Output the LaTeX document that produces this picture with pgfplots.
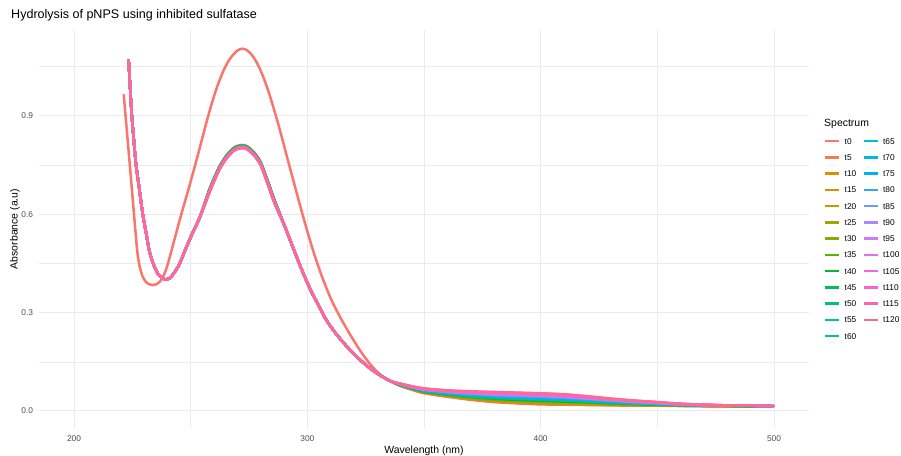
\documentclass[border=0pt]{standalone}
\usepackage{fontspec}
\setmainfont{Liberation Sans}
\usepackage{pgfplots}
\usepackage{pgfplotstable}
\pgfplotsset{compat=1.18}

\definecolor{gridc}{HTML}{EBEBEB}
\definecolor{tickc}{HTML}{4D4D4D}
\definecolor{c0}{HTML}{F8766D}
\definecolor{c5}{HTML}{EF7F49}
\definecolor{c10}{HTML}{E08B00}
\definecolor{c15}{HTML}{CF9400}
\definecolor{c20}{HTML}{BA9E00}
\definecolor{c25}{HTML}{A3A500}
\definecolor{c30}{HTML}{85AD00}
\definecolor{c35}{HTML}{5AB300}
\definecolor{c40}{HTML}{00B82B}
\definecolor{c45}{HTML}{00BD5A}
\definecolor{c50}{HTML}{00BF7D}
\definecolor{c55}{HTML}{00C19C}
\definecolor{c60}{HTML}{00C0B6}
\definecolor{c65}{HTML}{00BDCF}
\definecolor{c70}{HTML}{00B8E5}
\definecolor{c75}{HTML}{00B0F6}
\definecolor{c80}{HTML}{35A2FF}
\definecolor{c85}{HTML}{7099FF}
\definecolor{c90}{HTML}{AB87FF}
\definecolor{c95}{HTML}{CD79FE}
\definecolor{c100}{HTML}{E76BF3}
\definecolor{c105}{HTML}{F763E0}
\definecolor{c110}{HTML}{FF61C9}
\definecolor{c115}{HTML}{FF64B0}
\definecolor{c120}{HTML}{FF6A93}

% spectrum t0
\pgfplotstableread{
wl a
221.3 0.966
223.0 0.826
225.0 0.660
227.0 0.495
228.0 0.445
229.4 0.410
231.0 0.392
232.5 0.386
233.7 0.384
235.5 0.387
237.2 0.398
238.5 0.414
240.0 0.443
242.0 0.495
244.0 0.548
246.0 0.600
248.0 0.650
250.0 0.700
252.0 0.752
254.0 0.805
256.0 0.860
258.0 0.912
260.0 0.960
262.0 1.002
264.0 1.037
266.0 1.065
268.0 1.085
270.0 1.099
272.0 1.105
274.0 1.101
276.0 1.088
278.0 1.067
280.0 1.038
282.0 1.002
284.0 0.960
286.0 0.913
288.0 0.863
290.0 0.810
292.0 0.756
294.0 0.703
296.0 0.650
298.0 0.598
300.0 0.548
302.0 0.500
304.0 0.456
306.0 0.415
308.0 0.378
310.0 0.344
312.0 0.314
315.0 0.274
318.0 0.237
321.0 0.202
324.0 0.170
327.0 0.142
330.0 0.119
333.0 0.102
336.0 0.089
340.0 0.076
345.0 0.064
350.0 0.054
360.0 0.043
370.0 0.034
380.0 0.027
390.0 0.023
400.0 0.020
410.0 0.019
420.0 0.018
430.0 0.017
440.0 0.016
450.0 0.016
460.0 0.015
470.0 0.015
480.0 0.015
490.0 0.014
500.0 0.014
}\tzero

% spectra t5 ... t120
\pgfplotstableread{
wl t5 t10 t15 t20 t25 t30 t35 t40 t45 t50 t55 t60 t65 t70 t75 t80 t85 t90 t95 t100 t105 t110 t115 t120
223.4 1.071 1.071 1.071 1.071 1.071 1.071 1.071 1.071 1.071 1.071 1.071 1.071 1.071 1.071 1.071 1.071 1.071 1.071 1.071 1.071 1.071 1.071 1.071 1.071
224.0 0.995 0.995 0.995 0.995 0.995 0.995 0.995 0.995 0.995 0.995 0.995 0.995 0.995 0.995 0.995 0.995 0.995 0.995 0.995 0.995 0.995 0.995 0.995 0.995
224.7 0.908 0.908 0.908 0.908 0.908 0.908 0.908 0.908 0.908 0.908 0.908 0.908 0.908 0.908 0.908 0.908 0.908 0.908 0.908 0.908 0.908 0.908 0.908 0.908
225.5 0.838 0.838 0.838 0.838 0.838 0.838 0.838 0.838 0.838 0.838 0.838 0.838 0.838 0.838 0.838 0.838 0.838 0.838 0.838 0.838 0.838 0.838 0.838 0.838
226.5 0.756 0.756 0.756 0.756 0.756 0.756 0.756 0.756 0.756 0.756 0.756 0.756 0.756 0.756 0.756 0.756 0.756 0.756 0.756 0.756 0.756 0.756 0.756 0.756
228.0 0.677 0.677 0.677 0.677 0.677 0.677 0.677 0.677 0.677 0.677 0.677 0.677 0.677 0.677 0.677 0.677 0.677 0.677 0.677 0.677 0.677 0.677 0.677 0.677
229.4 0.603 0.603 0.603 0.603 0.603 0.603 0.603 0.603 0.603 0.603 0.603 0.603 0.603 0.603 0.603 0.603 0.603 0.603 0.603 0.603 0.603 0.603 0.603 0.603
231.0 0.539 0.539 0.539 0.539 0.539 0.539 0.539 0.539 0.539 0.539 0.539 0.539 0.539 0.539 0.539 0.539 0.539 0.539 0.539 0.539 0.539 0.539 0.539 0.539
232.2 0.491 0.491 0.491 0.491 0.491 0.491 0.491 0.491 0.491 0.491 0.491 0.491 0.491 0.491 0.491 0.491 0.491 0.491 0.491 0.491 0.491 0.491 0.491 0.491
233.7 0.454 0.454 0.454 0.454 0.454 0.454 0.454 0.454 0.454 0.454 0.454 0.454 0.454 0.454 0.454 0.454 0.454 0.454 0.454 0.454 0.454 0.454 0.454 0.454
235.8 0.420 0.420 0.420 0.420 0.420 0.420 0.420 0.420 0.420 0.420 0.420 0.420 0.420 0.420 0.420 0.420 0.420 0.420 0.420 0.420 0.420 0.420 0.420 0.420
237.9 0.405 0.405 0.405 0.405 0.405 0.405 0.405 0.405 0.405 0.405 0.405 0.405 0.405 0.405 0.405 0.405 0.405 0.405 0.405 0.405 0.405 0.405 0.405 0.405
239.3 0.401 0.401 0.401 0.401 0.401 0.401 0.401 0.401 0.401 0.401 0.401 0.401 0.401 0.401 0.401 0.401 0.401 0.401 0.401 0.401 0.401 0.401 0.401 0.401
241.0 0.405 0.405 0.405 0.405 0.405 0.405 0.405 0.405 0.405 0.405 0.405 0.405 0.405 0.405 0.405 0.405 0.405 0.405 0.405 0.405 0.405 0.405 0.405 0.405
242.5 0.417 0.417 0.417 0.417 0.417 0.417 0.417 0.417 0.417 0.417 0.417 0.417 0.417 0.417 0.417 0.417 0.417 0.417 0.417 0.417 0.417 0.417 0.417 0.417
245.0 0.445 0.445 0.445 0.445 0.445 0.445 0.445 0.445 0.445 0.445 0.445 0.445 0.445 0.445 0.445 0.445 0.445 0.445 0.445 0.445 0.445 0.445 0.445 0.445
247.5 0.488 0.488 0.488 0.488 0.488 0.488 0.488 0.488 0.488 0.488 0.488 0.488 0.488 0.488 0.488 0.488 0.488 0.488 0.488 0.488 0.488 0.488 0.488 0.488
250.0 0.530 0.530 0.530 0.530 0.530 0.530 0.530 0.530 0.530 0.530 0.530 0.530 0.530 0.530 0.530 0.530 0.530 0.530 0.530 0.530 0.530 0.530 0.530 0.530
254.0 0.592 0.592 0.592 0.592 0.592 0.592 0.592 0.592 0.592 0.592 0.592 0.592 0.592 0.592 0.592 0.592 0.592 0.592 0.592 0.592 0.592 0.592 0.592 0.592
258.0 0.675 0.675 0.674 0.674 0.673 0.673 0.673 0.672 0.672 0.671 0.671 0.671 0.670 0.670 0.670 0.669 0.669 0.668 0.668 0.668 0.667 0.667 0.666 0.666
262.0 0.741 0.741 0.740 0.740 0.739 0.739 0.739 0.738 0.738 0.737 0.737 0.737 0.736 0.736 0.736 0.735 0.735 0.734 0.734 0.734 0.733 0.733 0.732 0.732
265.0 0.776 0.776 0.775 0.775 0.774 0.774 0.774 0.773 0.773 0.772 0.772 0.772 0.771 0.771 0.771 0.770 0.770 0.769 0.769 0.769 0.768 0.768 0.767 0.767
268.0 0.800 0.800 0.799 0.799 0.798 0.798 0.798 0.797 0.797 0.796 0.796 0.796 0.795 0.795 0.795 0.794 0.794 0.793 0.793 0.793 0.792 0.792 0.791 0.791
270.0 0.808 0.808 0.807 0.807 0.806 0.806 0.806 0.805 0.805 0.804 0.804 0.804 0.803 0.803 0.803 0.802 0.802 0.801 0.801 0.801 0.800 0.800 0.799 0.799
272.0 0.811 0.811 0.810 0.810 0.809 0.809 0.809 0.808 0.808 0.807 0.807 0.807 0.806 0.806 0.806 0.805 0.805 0.804 0.804 0.804 0.803 0.803 0.802 0.802
274.0 0.808 0.808 0.807 0.807 0.806 0.806 0.806 0.805 0.805 0.804 0.804 0.804 0.803 0.803 0.803 0.802 0.802 0.801 0.801 0.801 0.800 0.800 0.799 0.799
277.0 0.790 0.790 0.789 0.789 0.788 0.788 0.788 0.787 0.787 0.786 0.786 0.786 0.785 0.785 0.785 0.784 0.784 0.783 0.783 0.783 0.782 0.782 0.781 0.781
280.0 0.759 0.759 0.758 0.758 0.757 0.757 0.757 0.756 0.756 0.755 0.755 0.755 0.754 0.754 0.754 0.753 0.753 0.752 0.752 0.752 0.751 0.751 0.750 0.750
283.0 0.702 0.702 0.701 0.701 0.700 0.700 0.700 0.699 0.699 0.698 0.698 0.698 0.697 0.697 0.697 0.696 0.696 0.695 0.695 0.695 0.694 0.694 0.693 0.693
286.0 0.642 0.642 0.641 0.641 0.640 0.640 0.640 0.639 0.639 0.638 0.638 0.638 0.637 0.637 0.637 0.636 0.636 0.635 0.635 0.635 0.634 0.634 0.633 0.633
290.0 0.569 0.569 0.569 0.569 0.569 0.569 0.569 0.569 0.569 0.569 0.569 0.569 0.569 0.569 0.569 0.569 0.569 0.569 0.569 0.569 0.569 0.569 0.569 0.569
294.0 0.496 0.496 0.496 0.496 0.496 0.496 0.496 0.496 0.496 0.496 0.496 0.496 0.496 0.496 0.496 0.496 0.496 0.496 0.496 0.496 0.496 0.496 0.496 0.496
297.0 0.441 0.441 0.441 0.441 0.441 0.441 0.441 0.441 0.441 0.441 0.441 0.441 0.441 0.441 0.441 0.441 0.441 0.441 0.441 0.441 0.441 0.441 0.441 0.441
301.0 0.375 0.375 0.375 0.375 0.375 0.375 0.375 0.375 0.375 0.375 0.375 0.375 0.375 0.375 0.375 0.375 0.375 0.375 0.375 0.375 0.375 0.375 0.375 0.375
304.0 0.333 0.333 0.333 0.333 0.333 0.333 0.333 0.333 0.333 0.333 0.333 0.333 0.333 0.333 0.333 0.333 0.333 0.333 0.333 0.333 0.333 0.333 0.333 0.333
308.0 0.279 0.279 0.279 0.279 0.279 0.279 0.279 0.279 0.279 0.279 0.279 0.279 0.279 0.279 0.279 0.279 0.279 0.279 0.279 0.279 0.279 0.279 0.279 0.279
312.0 0.238 0.238 0.238 0.238 0.238 0.238 0.238 0.238 0.238 0.238 0.238 0.238 0.238 0.238 0.238 0.238 0.238 0.238 0.238 0.238 0.238 0.238 0.238 0.238
316.0 0.204 0.204 0.204 0.204 0.204 0.204 0.204 0.204 0.204 0.204 0.204 0.204 0.204 0.204 0.204 0.204 0.204 0.204 0.204 0.204 0.204 0.204 0.204 0.204
320.0 0.174 0.174 0.174 0.174 0.174 0.174 0.174 0.174 0.174 0.174 0.174 0.174 0.174 0.174 0.174 0.174 0.174 0.174 0.174 0.174 0.174 0.174 0.174 0.174
324.0 0.147 0.147 0.147 0.147 0.147 0.147 0.147 0.147 0.147 0.147 0.147 0.147 0.147 0.147 0.147 0.147 0.147 0.147 0.147 0.147 0.147 0.147 0.147 0.147
328.0 0.124 0.124 0.124 0.124 0.124 0.124 0.124 0.124 0.124 0.124 0.124 0.124 0.124 0.124 0.124 0.124 0.124 0.124 0.124 0.124 0.124 0.124 0.124 0.124
332.0 0.105 0.105 0.105 0.105 0.105 0.105 0.105 0.105 0.105 0.105 0.105 0.105 0.105 0.105 0.105 0.105 0.105 0.105 0.105 0.105 0.105 0.105 0.105 0.105
336.0 0.090 0.090 0.090 0.090 0.090 0.090 0.090 0.090 0.090 0.090 0.090 0.090 0.090 0.090 0.090 0.090 0.090 0.090 0.090 0.090 0.090 0.090 0.090 0.090
340.0 0.077 0.077 0.078 0.078 0.078 0.078 0.079 0.079 0.079 0.079 0.080 0.080 0.080 0.080 0.081 0.081 0.081 0.081 0.082 0.082 0.082 0.082 0.083 0.083
345.0 0.066 0.066 0.067 0.067 0.068 0.068 0.068 0.069 0.069 0.070 0.070 0.070 0.071 0.071 0.071 0.072 0.072 0.073 0.073 0.073 0.074 0.074 0.075 0.075
350.0 0.056 0.057 0.057 0.058 0.058 0.059 0.059 0.060 0.061 0.061 0.062 0.062 0.063 0.063 0.064 0.064 0.065 0.066 0.066 0.067 0.067 0.068 0.068 0.069
360.0 0.045 0.046 0.047 0.047 0.048 0.049 0.050 0.050 0.051 0.052 0.053 0.054 0.054 0.055 0.056 0.057 0.058 0.058 0.059 0.060 0.061 0.061 0.062 0.063
370.0 0.036 0.037 0.038 0.039 0.040 0.041 0.042 0.043 0.044 0.045 0.046 0.047 0.049 0.050 0.051 0.052 0.053 0.054 0.055 0.056 0.057 0.058 0.059 0.060
380.0 0.029 0.030 0.032 0.033 0.034 0.035 0.037 0.038 0.039 0.040 0.042 0.043 0.044 0.045 0.047 0.048 0.049 0.050 0.052 0.053 0.054 0.055 0.057 0.058
390.0 0.025 0.026 0.028 0.029 0.030 0.032 0.033 0.034 0.036 0.037 0.038 0.040 0.041 0.043 0.044 0.045 0.047 0.048 0.049 0.051 0.052 0.053 0.055 0.056
400.0 0.022 0.023 0.025 0.026 0.028 0.029 0.030 0.032 0.033 0.035 0.036 0.037 0.039 0.040 0.041 0.043 0.044 0.046 0.047 0.048 0.050 0.051 0.053 0.054
410.0 0.020 0.021 0.023 0.024 0.025 0.027 0.028 0.029 0.031 0.032 0.033 0.035 0.036 0.038 0.039 0.040 0.042 0.043 0.044 0.046 0.047 0.048 0.050 0.051
420.0 0.019 0.020 0.021 0.022 0.024 0.025 0.026 0.027 0.028 0.029 0.030 0.031 0.033 0.034 0.035 0.036 0.037 0.038 0.039 0.040 0.042 0.043 0.044 0.045
430.0 0.018 0.019 0.020 0.021 0.021 0.022 0.023 0.024 0.025 0.026 0.027 0.028 0.028 0.029 0.030 0.031 0.032 0.033 0.034 0.035 0.035 0.036 0.037 0.038
440.0 0.017 0.018 0.018 0.019 0.020 0.020 0.021 0.022 0.022 0.023 0.024 0.024 0.025 0.025 0.026 0.027 0.027 0.028 0.029 0.029 0.030 0.031 0.031 0.032
450.0 0.016 0.016 0.017 0.017 0.018 0.018 0.019 0.019 0.020 0.020 0.021 0.021 0.022 0.022 0.023 0.023 0.024 0.024 0.025 0.025 0.026 0.026 0.027 0.027
460.0 0.016 0.016 0.017 0.017 0.017 0.017 0.018 0.018 0.018 0.018 0.019 0.019 0.019 0.019 0.020 0.020 0.020 0.020 0.021 0.021 0.021 0.021 0.022 0.022
470.0 0.015 0.015 0.015 0.016 0.016 0.016 0.016 0.016 0.016 0.017 0.017 0.017 0.017 0.017 0.017 0.018 0.018 0.018 0.018 0.018 0.018 0.019 0.019 0.019
480.0 0.015 0.015 0.015 0.015 0.015 0.015 0.016 0.016 0.016 0.016 0.016 0.016 0.016 0.016 0.016 0.016 0.016 0.016 0.017 0.017 0.017 0.017 0.017 0.017
490.0 0.015 0.015 0.015 0.015 0.015 0.015 0.015 0.015 0.015 0.015 0.015 0.015 0.016 0.016 0.016 0.016 0.016 0.016 0.016 0.016 0.016 0.016 0.016 0.016
500.0 0.014 0.014 0.014 0.014 0.014 0.014 0.014 0.014 0.014 0.014 0.014 0.014 0.015 0.015 0.015 0.015 0.015 0.015 0.015 0.015 0.015 0.015 0.015 0.015
}\famtab

\begin{document}
\begin{tikzpicture}
\useasboundingbox (-39bp,-28bp) rectangle (862bp,428bp);
\begin{axis}[
  at={(0,0)}, anchor=south west,
  scale only axis, width=770bp, height=398bp,
  xmin=185, xmax=515, ymin=-0.052, ymax=1.162,
  axis line style={draw=none},
  major tick length=0pt, minor tick length=0pt,
  xtick={200,300,400,500}, ytick={0,0.3,0.6,0.9},
  minor xtick={250,350,450}, minor ytick={0.15,0.45,0.75,1.05},
  grid=both,
  major grid style={draw=gridc, line width=1bp},
  minor grid style={draw=gridc, line width=0.5bp},
  /pgf/number format/assume math mode=true,
  xticklabel style={font=\fontsize{8.4}{10}\selectfont, color=tickc, inner sep=0pt, anchor=north, yshift=-7.3bp},
  yticklabel style={font=\fontsize{8.4}{10}\selectfont, color=tickc, inner sep=0pt, anchor=east, xshift=-5.7bp,
    /pgf/number format/fixed, /pgf/number format/fixed zerofill, /pgf/number format/precision=1},
  xlabel={Wavelength (nm)},
  ylabel={Absorbance (a.u)},
  xlabel style={at={(axis description cs:0.5,-0.0653)}, anchor=base, inner sep=0pt, font=\fontsize{10.5}{12}\selectfont},
  ylabel style={at={(axis description cs:-0.0312,0.5)}, anchor=center, inner sep=0pt, font=\fontsize{10.5}{12}\selectfont},
  title={Hydrolysis of pNPS using inhibited sulfatase},
  title style={at={(axis description cs:-0.03636,1.01508)}, anchor=base west, inner sep=0pt, font=\fontsize{12.6}{14}\selectfont},
  no markers,
  every axis plot/.append style={line width=2.5bp, smooth, tension=0.4, line join=round},
  legend image code/.code={\draw[#1,sharp plot] (0bp,0bp) -- (14bp,0bp);},
  legend cell align=left,
  transpose legend,
  legend columns=13,
  legend style={draw=none, fill=none, at={(axis description cs:1.0156,0.7339)}, anchor=north west,
    font=\fontsize{8.4}{10}\selectfont, row sep=10.25bp,
    nodes={inner sep=0pt, text height=6bp, text depth=0pt},
    /tikz/every odd column/.append style={column sep=4bp},
    /tikz/every even column/.append style={column sep=6.3bp}},
]
\addplot[c0] table[x=wl,y=a]{\tzero}; \addlegendentry{t0}
\addplot[c5] table[x=wl,y=t5]{\famtab}; \addlegendentry{t5}
\addplot[c10] table[x=wl,y=t10]{\famtab}; \addlegendentry{t10}
\addplot[c15] table[x=wl,y=t15]{\famtab}; \addlegendentry{t15}
\addplot[c20] table[x=wl,y=t20]{\famtab}; \addlegendentry{t20}
\addplot[c25] table[x=wl,y=t25]{\famtab}; \addlegendentry{t25}
\addplot[c30] table[x=wl,y=t30]{\famtab}; \addlegendentry{t30}
\addplot[c35] table[x=wl,y=t35]{\famtab}; \addlegendentry{t35}
\addplot[c40] table[x=wl,y=t40]{\famtab}; \addlegendentry{t40}
\addplot[c45] table[x=wl,y=t45]{\famtab}; \addlegendentry{t45}
\addplot[c50] table[x=wl,y=t50]{\famtab}; \addlegendentry{t50}
\addplot[c55] table[x=wl,y=t55]{\famtab}; \addlegendentry{t55}
\addplot[c60] table[x=wl,y=t60]{\famtab}; \addlegendentry{t60}
\addplot[c65] table[x=wl,y=t65]{\famtab}; \addlegendentry{t65}
\addplot[c70] table[x=wl,y=t70]{\famtab}; \addlegendentry{t70}
\addplot[c75] table[x=wl,y=t75]{\famtab}; \addlegendentry{t75}
\addplot[c80] table[x=wl,y=t80]{\famtab}; \addlegendentry{t80}
\addplot[c85] table[x=wl,y=t85]{\famtab}; \addlegendentry{t85}
\addplot[c90] table[x=wl,y=t90]{\famtab}; \addlegendentry{t90}
\addplot[c95] table[x=wl,y=t95]{\famtab}; \addlegendentry{t95}
\addplot[c100] table[x=wl,y=t100]{\famtab}; \addlegendentry{t100}
\addplot[c105] table[x=wl,y=t105]{\famtab}; \addlegendentry{t105}
\addplot[c110] table[x=wl,y=t110]{\famtab}; \addlegendentry{t110}
\addplot[c115] table[x=wl,y=t115]{\famtab}; \addlegendentry{t115}
\addplot[c120] table[x=wl,y=t120]{\famtab}; \addlegendentry{t120}
\end{axis}
\node[anchor=base west, inner sep=0pt, font=\fontsize{10.5}{12}\selectfont] at (785bp,301.3bp) {Spectrum};
\end{tikzpicture}
\end{document}
